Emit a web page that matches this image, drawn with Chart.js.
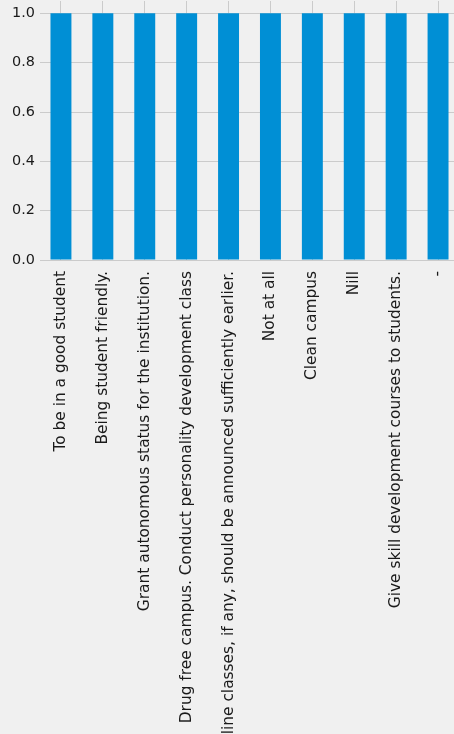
<!DOCTYPE html>
<html>
<head>
<meta charset="utf-8">
<script src="https://cdn.jsdelivr.net/npm/chart.js@4"></script>
<style>
  html, body { margin: 0; padding: 0; background: #f0f0f0; overflow: hidden; width: 454px; height: 734px; }
  #wrap { position: relative; width: 459px; height: 734px; }
</style>
</head>
<body>
<div id="wrap"><canvas id="c"></canvas></div>
<script>
const categories = [
  "To be in a good student",
  "Being student friendly.",
  "Grant autonomous status for the institution.",
  "Drug free campus. Conduct personality development class",
  "Online classes, if any, should be announced sufficiently earlier.",
  "Not at all",
  "Clean campus",
  "Nill",
  "Give skill development courses to students.",
  "-"
];
const counts = [1, 1, 1, 1, 1, 1, 1, 1, 1, 1];
const yTicks = [0, 0.2, 0.4, 0.6, 0.8, 1.0];
const yMax = 1.05;

const XFONT = { family: "'DejaVu Sans', sans-serif", size: 15.4 };
const YFONT = { family: "'DejaVu Sans', sans-serif", size: 14.4 };
const TEXT = '#1a1a1a';
const GRID = '#cbcbcb';

new Chart(document.getElementById('c'), {
  type: 'bar',
  data: {
    labels: categories,
    datasets: [{
      data: counts,
      backgroundColor: '#008fd5',
      borderWidth: 0,
      barPercentage: 0.5,
      categoryPercentage: 1.0
    }]
  },
  options: {
    responsive: true,
    maintainAspectRatio: false,
    animation: false,
    layout: { padding: { top: 1, left: 0, right: 0, bottom: 0 } },
    plugins: { legend: { display: false }, tooltip: { enabled: false } },
    scales: {
      x: {
        offset: true,
        grid: { offset: false, color: GRID, lineWidth: 1, drawTicks: false },
        border: { display: false },
        ticks: {
          font: XFONT, color: TEXT, minRotation: 90, maxRotation: 90,
          autoSkip: false, padding: 11
        },
        afterFit(scale) {
          scale.height = 474;
          scale.paddingLeft = 0; scale.paddingRight = 0;
        }
      },
      y: {
        min: 0,
        max: yMax,
        grid: { color: GRID, lineWidth: 1, drawTicks: false },
        border: { display: false },
        ticks: {
          font: YFONT, color: TEXT, padding: 5, includeBounds: false,
          callback: (v) => Number(v).toFixed(1)
        },
        afterBuildTicks(scale) {
          scale.ticks = yTicks.map(v => ({ value: v }));
        },
        afterFit(scale) {
          scale.width = 40;
          scale.paddingTop = 0; scale.paddingBottom = 0;
        }
      }
    }
  }
});
</script>
</body>
</html>
